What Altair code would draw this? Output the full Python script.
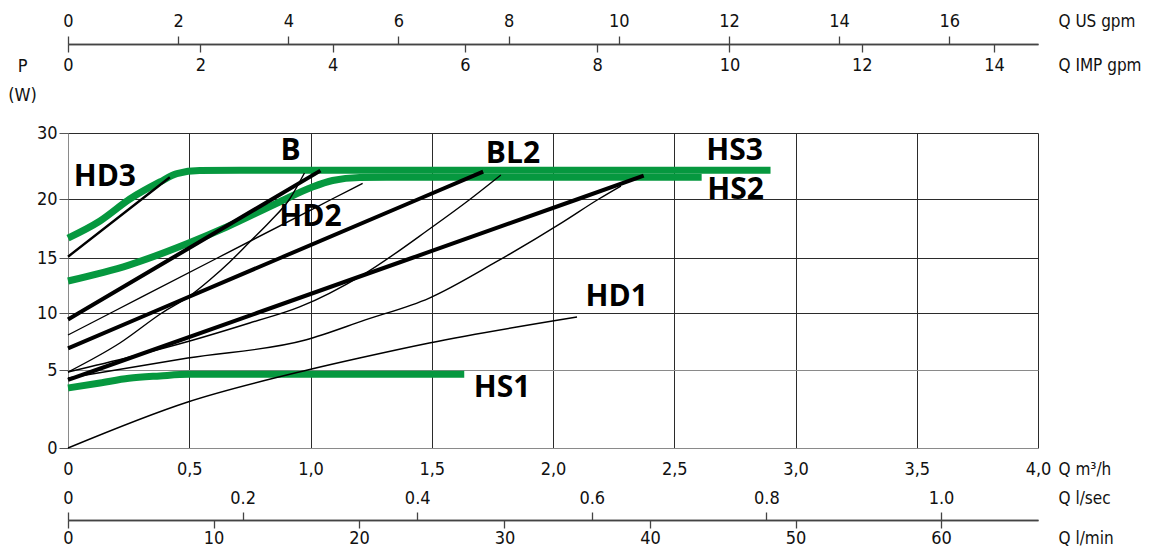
import altair as alt
import pandas as pd

# ---------------- data : flow Q (m3/h) and power P (W) ----------------
# green curves
hs3_q = [0, 0.132, 0.255, 0.379, 0.449, 0.543, 0.708, 2.897]
hs3_p = [16.69, 18.14, 20.0, 22.58, 23.86, 24.3, 24.35, 24.35]
hs2_q = [0, 0.251, 0.498, 0.654, 0.872, 1.008, 1.091, 1.202, 1.366, 2.613]
hs2_p = [12.91, 14.36, 16.27, 17.63, 19.75, 21.82, 22.80, 23.26, 23.3, 23.3]
hs1_q = [0, 0.132, 0.251, 0.379, 0.498, 1.634]
hs1_p = [3.85, 4.17, 4.47, 4.62, 4.72, 4.72]
# thick black curves
thick1_q = [0, 0.045, 0.43, 0.843, 1.041]
thick1_p = [9.43, 10, 15, 20, 24.3]
thick2_q = [0, 0.342, 0.875, 1.447, 1.712]
thick2_p = [6.9, 10, 15, 20, 24.14]
thick3_q = [0, 0.116, 0.779, 1.418, 2.104, 2.374]
thick3_p = [4.36, 5, 10, 15, 20, 23.53]
# medium black curve (HD3)
hd3_q = [0, 0.305, 0.42]
hd3_p = [15.11, 20, 23.29]
# thin black curves
hd2_q = [0, 0.176, 0.616, 1.089, 1.215]
hd2_p = [8.07, 10, 15, 20, 22.38]
b_q = [0, 0.214, 0.387, 0.502, 0.584, 0.667, 0.749, 0.831, 0.914, 0.975]
b_p = [4.87, 7.37, 10, 11.55, 13.0, 14.64, 16.36, 18.05, 20, 23.94]
bl2_q = [0, 0.255, 0.502, 0.749, 0.955, 1.214, 1.502, 1.654, 1.785]
bl2_p = [4.87, 6.14, 7.54, 9.12, 10.55, 13.45, 17.63, 19.92, 23.64]
c4_q = [0, 0.494, 0.979, 1.226, 1.49, 1.765, 2.037, 2.189, 2.28]
c4_p = [4.49, 6.05, 7.63, 9.39, 11.36, 14.64, 18.0, 20, 21.97]
hd1_q = [0, 0.494, 0.988, 1.202, 1.49, 2.099]
hd1_p = [0, 2.95, 5.0, 6.05, 7.37, 9.65]

# curve labels
label_text = ["HD3", "B", "HD2", "BL2", "HS3", "HS2", "HD1", "HS1"]
label_q = [0.152, 0.918, 1.0, 1.835, 2.749, 2.753, 2.263, 1.79]
label_p = [23.33, 27.2, 18.47, 26.82, 27.25, 21.4, 11.45, 3.85]

# axis ticks
m3h_ticks = [0, 0.5, 1.0, 1.5, 2.0, 2.5, 3.0, 3.5, 4.0]
p_ticks = [0, 5, 10, 15, 20, 30]
us_gpm_ticks = [0, 2, 4, 6, 8, 10, 12, 14, 16]
imp_gpm_ticks = [0, 2, 4, 6, 8, 10, 12, 14]
lsec_ticks = [0, 0.2, 0.4, 0.6, 0.8, 1.0]
lmin_ticks = [0, 10, 20, 30, 40, 50, 60]

Q_MAX = 4.0
US_GPM = 0.2271247   # m3/h per US gpm
IMP_GPM = 0.2727654  # m3/h per IMP gpm
LSEC = 3.6           # m3/h per l/s
LMIN = 0.06          # m3/h per l/min


def frame(curves):
    rows = []
    for name, qs, ps in curves:
        for i, (q, p) in enumerate(zip(qs, ps)):
            rows.append({"series": name, "q": q, "p": p, "i": i})
    return pd.DataFrame(rows)


green_df = frame([("HS3", hs3_q, hs3_p), ("HS2", hs2_q, hs2_p), ("HS1", hs1_q, hs1_p)])
thick_df = frame([("T1", thick1_q, thick1_p), ("T2", thick2_q, thick2_p), ("T3", thick3_q, thick3_p)])
medium_df = frame([("HD3", hd3_q, hd3_p)])
thin_df = frame([("HD2", hd2_q, hd2_p), ("B", b_q, b_p), ("BL2", bl2_q, bl2_p),
                 ("C4", c4_q, c4_p), ("HD1", hd1_q, hd1_p)])
label_df = pd.DataFrame({"label": label_text, "q": label_q, "p": label_p})

# ---------------- styling ----------------
W, H = 970, 315
FONT = "DejaVu Sans Condensed, Liberation Sans Narrow, Liberation Sans, sans-serif"
TXT = "#111111"
AX = "#444444"
GRID = {"condition": {"test": "datum.value == 0", "value": "#8a8a8a"}, "value": "#2b2b2b"}
GRID_Y = {"condition": {"test": "datum.value == 0 || datum.value == 5", "value": "#8a8a8a"},
          "value": "#2b2b2b"}

main_x_scale = alt.Scale(domain=[0, Q_MAX], nice=False, zero=False)
y_scale = alt.Scale(domain=p_ticks, range=[315, 237, 180, 125, 66, 0], nice=False, zero=False)

y_axis = alt.Axis(
    values=p_ticks, grid=True, gridColor=GRID_Y, gridWidth=1, domain=False,
    tickSize=9, tickColor="#555555", tickWidth=1,
    labelFont=FONT, labelFontSize=18, labelColor=TXT, labelPadding=2, labelOverlap=False,
    title=["P", "(W)"], titleFont=FONT, titleFontSize=18, titleFontWeight="normal",
    titleColor=TXT, titleAngle=0, titleAlign="center", titleBaseline="middle",
    titleX=-46, titleY=-67, titleLineHeight=29,
)
y_enc = alt.Y("p:Q", scale=y_scale, axis=y_axis)


def hidden_x():
    return alt.X("q:Q", scale=main_x_scale, axis=None)


def line_layer(df, color, width, interp="linear"):
    return alt.Chart(df).mark_line(color=color, strokeWidth=width, strokeCap="butt",
                                   strokeJoin="round", interpolate=interp).encode(
        x=hidden_x(), y=y_enc, detail="series:N", order="i:Q")


green = line_layer(green_df, "#06983f", 7, "monotone")
thick = line_layer(thick_df, "#000000", 4)
medium = line_layer(medium_df, "#000000", 2.4)
thin = line_layer(thin_df, "#000000", 1.4, "monotone")

labels = alt.Chart(label_df).mark_text(
    font="Open Sans", fontWeight="bold", fontSize=30, color="#000000",
    align="center", baseline="middle").encode(x=hidden_x(), y=y_enc, text="label:N")

TITLE_X = 990
TITLE_SIZE = 17


def extra_axis(ticks, unit, orient, offset, title, label_pad, title_y, fmt_expr=None):
    kw = dict(
        orient=orient, offset=offset, values=ticks, grid=False,
        domain=True, domainColor=AX, domainWidth=1.5,
        ticks=True, tickSize=8, tickColor=AX, tickWidth=1.3,
        labelFont=FONT, labelFontSize=18, labelColor=TXT, labelBaseline="alphabetic",
        labelPadding=label_pad, labelOverlap=False, labelFlush=False,
        title=title, titleFont=FONT, titleFontSize=TITLE_SIZE, titleFontWeight="normal",
        titleColor=TXT, titleAlign="left", titleBaseline="alphabetic", titleAngle=0,
        titleX=TITLE_X, titleY=title_y,
    )
    if fmt_expr:
        kw["labelExpr"] = fmt_expr
    return alt.Chart(pd.DataFrame({"v": ticks})).mark_point(opacity=0).encode(
        x=alt.X("v:Q", scale=alt.Scale(domain=[0, Q_MAX / unit], nice=False, zero=False),
                axis=alt.Axis(**kw)))


main_axis = alt.Chart(pd.DataFrame({"q": m3h_ticks})).mark_point(opacity=0).encode(
    x=alt.X("q:Q", scale=main_x_scale, axis=alt.Axis(
        orient="bottom", values=m3h_ticks, grid=True, gridColor=GRID, gridWidth=1,
        domain=False, ticks=False, tickSize=0,
        labelExpr="datum.value == 0 ? '0' : replace(format(datum.value, '.1f'), '.', ',')",
        labelFont=FONT, labelFontSize=18, labelColor=TXT, labelBaseline="alphabetic",
        labelPadding=26.5, labelOverlap=False, labelFlush=False,
        title="Q m³/h", titleFont=FONT, titleFontSize=TITLE_SIZE, titleFontWeight="normal",
        titleColor=TXT, titleAlign="left", titleBaseline="alphabetic", titleAngle=0,
        titleX=TITLE_X, titleY=26.5)),
    y=y_enc)

us_axis = extra_axis(us_gpm_ticks, US_GPM, "top", 89, "Q US gpm", 10, -18)
imp_axis = extra_axis(imp_gpm_ticks, IMP_GPM, "bottom", -404, "Q IMP gpm", 18.5, 26.5)
lsec_axis = extra_axis(lsec_ticks, LSEC, "top", -387, "Q l/sec", 8.5, -16.5,
                       "datum.value == 0 ? '0' : format(datum.value, '.1f')")
lmin_axis = extra_axis(lmin_ticks, LMIN, "bottom", 72, "Q l/min", 15.5, 23.5)

chart = alt.layer(
    main_axis, green, thick, medium, thin, labels,
    us_axis, imp_axis, lsec_axis, lmin_axis,
).resolve_scale(x="independent").properties(
    width=W, height=H,
    autosize=alt.AutoSizeParams(type="none"),
    padding={"left": 60, "top": 125, "right": 104, "bottom": 100},
    background="white",
).configure_view(strokeWidth=0)

chart.save("out.html", embed_options={"renderer": "svg", "actions": False})
